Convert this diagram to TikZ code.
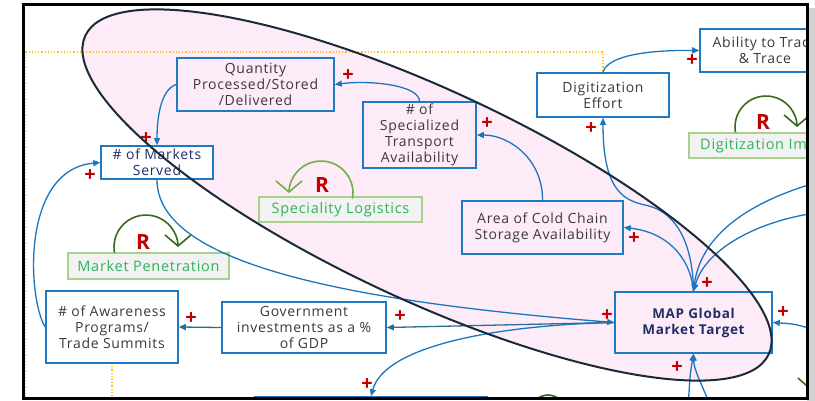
\documentclass[tikz,border=0pt]{standalone}
\usepackage{fontspec}
\setmainfont{Open Sans}[LetterSpace=5]
\usetikzlibrary{arrows.meta}
\definecolor{boxblue}{HTML}{1F7AC3}
\definecolor{arrblue}{HTML}{1B76C0}
\definecolor{govteal}{HTML}{2B6E93}
\definecolor{txt}{HTML}{3A3A3A}
\definecolor{navy}{HTML}{1F2F66}
\definecolor{plusred}{HTML}{C00000}
\definecolor{loopgreen}{HTML}{2DB45C}
\definecolor{loopedge}{HTML}{A9D18E}
\definecolor{loopfill}{HTML}{F2F2F2}
\definecolor{arclight}{HTML}{72B043}
\definecolor{arcdark}{HTML}{386A1E}
\definecolor{pinkfill}{HTML}{FDEBF8}
\definecolor{ringline}{HTML}{1A2A38}
\definecolor{dotorange}{HTML}{FFC000}
\tikzset{
  box/.style={draw=boxblue, line width=1.6pt, text=txt, align=center, inner sep=1pt, font=\fontsize{14}{16}\selectfont},
  loopbox/.style={draw=loopedge, fill=loopfill, line width=1.2pt, text=loopgreen, inner sep=0pt, font=\fontsize{14.5}{16}\selectfont},
  arr/.style={draw=arrblue, line width=1.3pt, -{Triangle[length=7pt,width=6pt]}},
  garr/.style={draw=govteal, line width=1.3pt, -{Triangle[length=7pt,width=6pt]}},
  looparc/.style={line width=1.6pt, -{Straight Barb[length=11pt,width=26pt,line width=1.6pt]}},
  rmark/.style={text=plusred, inner sep=0pt, font=\fontsize{21}{21}\selectfont\bfseries},
  pl/.style={text=plusred, inner sep=0pt, font=\fontsize{20}{20}\selectfont\bfseries},
  guide/.style={draw=dotorange, line width=1.2pt, dotted},
}

\begin{document}
\begin{tikzpicture}[x=1pt,y=-1pt]
  \useasboundingbox (0,0) rectangle (815,401);
  \fill[white] (0,0) rectangle (815,401);
  \fill[gray!35] (807,8) rectangle (815,401);
  \begin{scope}
    \clip (23,5) rectangle (807,398);
    % the cluster
    \fill[pinkfill, rotate around={-25:(427,195)}] (427,195) ellipse [x radius=377, y radius=105];
    \draw[guide] (25,410) -- (25,52) -- (603,52) -- (603,73);
    \draw[guide] (112,363) -- (112,410);

    % variables
    \node[box, minimum width=157pt, minimum height=53pt] (Q) at (255.5,84.5) {Quantity\\Processed/Stored\\/Delivered};
    \node[box, fill=white, text=navy, minimum width=112pt, minimum height=33pt] (M) at (157,162.5) {\# of Markets\\Served};
    \node[box, minimum width=113pt, minimum height=66pt] (S) at (419.5,135) {\# of\\Specialized\\Transport\\Availability};
    \node[box, fill=white, minimum width=132pt, minimum height=44pt] (D) at (603,95) {Digitization\\Effort};
    \node[box, fill=white, minimum width=130pt, minimum height=43pt] (T) at (765,50.5) {Ability to Trace\\\& Trace};
    \node[box, minimum width=161pt, minimum height=53pt] (A) at (542.5,227.5) {Area of Cold Chain\\Storage Availability};
    \node[box, text=navy, font=\fontsize{13.5}{16}\selectfont\bfseries, minimum width=157pt, minimum height=61pt] (G) at (693.5,322.5) {MAP Global\\Market Target};
    \node[box, fill=white, minimum width=132pt, minimum height=72pt] (W) at (112,327) {\# of Awareness\\Programs/\\Trade Summits};
    \node[box, fill=white, minimum width=164pt, minimum height=51pt] (V) at (304,327.5) {Government\\investments as a \%\\of GDP};
    \node[box, fill=white, minimum width=232pt, minimum height=46pt] (B) at (371,420) {};

    % loops
    \node[loopbox, minimum width=163pt, minimum height=25pt] (L1) at (340.5,209.5) {Speciality Logistics};
    \node[loopbox, minimum width=161pt, minimum height=26pt] (L2) at (148.5,266) {Market Penetration};
    \node[loopbox, minimum width=161pt, minimum height=25pt] (L3) at (769.5,145.5) {Digitization Impact};
    \node[loopbox, minimum width=161pt, minimum height=25pt] (L4) at (817,410) {};
    \draw[arclight, looparc] (352.5,198.6) arc[start angle=10, end angle=-180, radius=32];
    \draw[arcdark, looparc] (114.5,252.6) arc[start angle=170, end angle=360, radius=32];
    \draw[arcdark, looparc] (735.5,132.4) arc[start angle=170, end angle=360, radius=31];
    \draw[arcdark, line width=1.6pt] (548,412) circle[radius=17];
    \draw[arcdark, line width=1.6pt] (798,378) -- (815,393);
    \node[rmark] (R1) at (322,185) {R};
    \node[rmark] (R2) at (143,242) {R};
    \node[rmark] (R3) at (763,122) {R};

    % links
    \coordinate (in1) at (815,183);
    \coordinate (in2) at (815,213);
    \coordinate (in3) at (815,330);
    \coordinate (bt1) at (688,410);
    \coordinate (bt2) at (712,410);
    \draw[arr] (S.north) .. controls (419,85) and (370,80) .. (Q.east);
    \draw[arr] (Q.west) .. controls (160,90) and (157,120) .. (M.north);
    \draw[arr] (M.south) .. controls (157,260) and (330,300) .. (G.west);
    \draw[arr] (W.west) .. controls (28,300) and (20,170) .. (M.west);
    \draw[arr] (A.north) .. controls (543,160) and (510,135) .. (S.east);
    \draw[arr] (G.north) .. controls (693,250) and (680,212) .. (645,205) .. controls (620,200) and (603,185) .. (D.south);
    \draw[arr] (G.north) .. controls (690,255) and (665,232) .. (A.east);
    \draw[arr] (G.west) .. controls (500,325) and (385,345) .. (B.north);
    \draw[arr] (D.north) .. controls (608,55) and (650,50) .. (T.west);
    \draw[garr] (G.west) -- (V.east);
    \draw[garr] (V.west) -- (W.east);
    \draw[arr] (in1) .. controls (740,205) and (700,240) .. (G.north);
    \draw[arr] (in2) .. controls (755,222) and (705,250) .. (G.north);
    \draw[arr] (in3) .. controls (795,324) .. (G.east);
    \draw[arr] (bt1) .. controls (690,375) .. (G.south);
    \draw[arr] (bt2) .. controls (700,380) and (694,370) .. (G.south);

    % polarities
    \foreach \x/\y [count=\i] in {348/76,146/139,90/176,487/124,692/61,591/129,634/239,
        707/284,607/316,783/313,677/368,191/319,400/317,367/385}
      \node[pl] (p\i) at (\x,\y) {+};

    \draw[ringline, line width=2pt, rotate around={-25:(427,195)}] (427,195) ellipse [x radius=377, y radius=105];
  \end{scope}
  \draw[line width=3pt] (23,5) rectangle (807,398);
\end{tikzpicture}
\end{document}
